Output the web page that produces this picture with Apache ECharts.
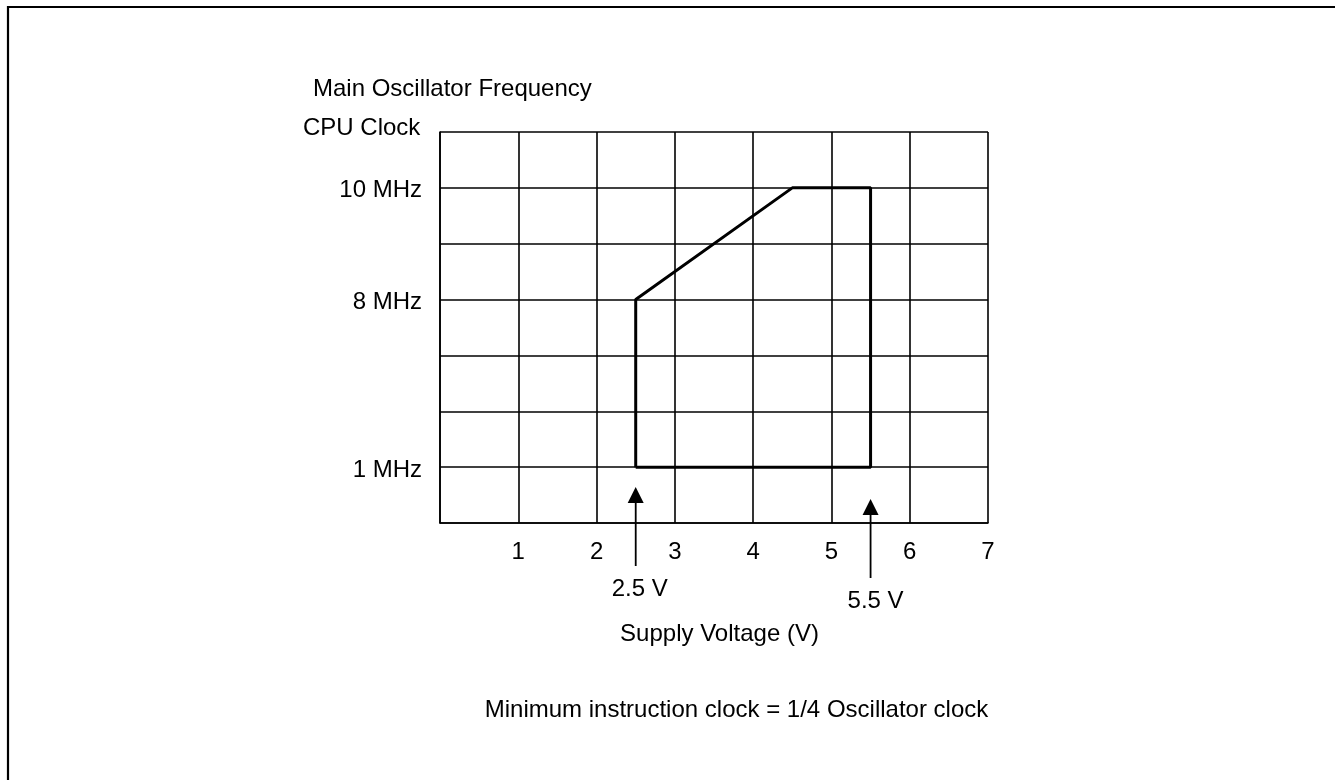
<!DOCTYPE html>
<html>
<head>
<meta charset="utf-8">
<title>Operating Range</title>
<script src="https://cdn.jsdelivr.net/npm/echarts@6/dist/echarts.min.js"></script>
<style>
  html, body { margin: 0; padding: 0; background: #fff; }
  #chart { width: 1335px; height: 780px; }
</style>
</head>
<body>
<div id="chart"></div>
<script>
// Operating area outline: supply voltage (V) vs. oscillator frequency (MHz)
const voltages = [2.5, 2.5, 4.5, 5.5, 5.5, 2.5];
const frequenciesMHz = [1, 8, 10, 10, 1, 1];

// Tick labels, one per grid row / column
const freqTickLabels = ['', '1 MHz', '', '', '8 MHz', '', '10 MHz', ''];
const voltTickLabels = ['', '1', '2', '3', '4', '5', '6', '7'];

// Voltage limit markers below the axis
const markerVoltages = [2.5, 5.5];
const markerLabels = ['2.5 V', '5.5 V'];

const FONT = '"Liberation Sans", Arial, sans-serif';
const FONT_SIZE = 24;

// Frequency axis is drawn in rows; each labelled frequency sits on its own row
const rowOf = mhz => freqTickLabels.indexOf(mhz + ' MHz');

const outline = voltages.map((v, i) => [v, rowOf(frequenciesMHz[i])]);

// Arrow geometry (pixels relative to the bottom of the plot)
const arrowLayout = [
  { tip: 36, tail: 43, label: 66, dx: 4 },
  { tip: 24, tail: 55, label: 78, dx: 5 }
];

const chart = echarts.init(document.getElementById('chart'), null, { renderer: 'canvas' });

chart.setOption({
  backgroundColor: '#ffffff',
  animation: false,
  grid: { left: 440, top: 132, width: 548, height: 391 },
  xAxis: {
    type: 'value',
    min: 0,
    max: voltTickLabels.length - 1,
    interval: 1,
    axisLine: { show: true, lineStyle: { color: '#000', width: 1.6 } },
    axisTick: { show: false },
    splitLine: { show: true, lineStyle: { color: '#000', width: 1.6 } },
    axisLabel: {
      margin: 17,
      color: '#000',
      fontFamily: FONT,
      fontSize: FONT_SIZE,
      formatter: v => voltTickLabels[Math.round(v)] || ''
    }
  },
  yAxis: {
    type: 'value',
    min: 0,
    max: freqTickLabels.length - 1,
    interval: 1,
    axisLine: { show: true, lineStyle: { color: '#000', width: 1.6 } },
    axisTick: { show: false },
    splitLine: { show: true, lineStyle: { color: '#000', width: 1.6 } },
    axisLabel: {
      margin: 18,
      color: '#000',
      fontFamily: FONT,
      fontSize: FONT_SIZE,
      formatter: v => {
        const t = freqTickLabels[Math.round(v)];
        return t ? '{f|' + t + '}' : '';
      },
      rich: {
        f: {
          color: '#000',
          fontFamily: FONT,
          fontSize: FONT_SIZE,
          padding: [6, 0, 0, 0]
        }
      }
    }
  },
  series: [
    {
      type: 'line',
      data: outline,
      symbol: 'none',
      lineStyle: { color: '#000', width: 3 },
      z: 5
    },
    {
      type: 'custom',
      clip: false,
      data: markerVoltages.map(v => [v, 0]),
      renderItem: (params, api) => {
        const p = api.coord([api.value(0), 0]);
        const lay = arrowLayout[params.dataIndex];
        const x = p[0];
        const base = p[1];
        const tipY = base - lay.tip;
        const headH = 16, headW = 16;
        return {
          type: 'group',
          children: [
            {
              type: 'line',
              shape: { x1: x, y1: base + lay.tail, x2: x, y2: tipY + headH - 2 },
              style: { stroke: '#000', lineWidth: 1.8 }
            },
            {
              type: 'polygon',
              shape: { points: [[x, tipY], [x - headW / 2, tipY + headH], [x + headW / 2, tipY + headH]] },
              style: { fill: '#000' }
            },
            {
              type: 'text',
              style: {
                text: markerLabels[params.dataIndex],
                x: x + lay.dx,
                y: base + lay.label,
                align: 'center',
                verticalAlign: 'middle',
                fill: '#000',
                fontFamily: FONT,
                fontSize: FONT_SIZE
              }
            }
          ]
        };
      },
      z: 6
    }
  ],
  graphic: [
    {
      type: 'polyline',
      shape: { points: [[8, 780], [8, 7], [1335, 7]] },
      style: { stroke: '#000', lineWidth: 2.2, fill: null }
    },
    {
      type: 'text',
      left: 313,
      top: 89 - FONT_SIZE / 2,
      style: { text: 'Main Oscillator Frequency', fill: '#000', fontFamily: FONT, fontSize: FONT_SIZE }
    },
    {
      type: 'text',
      left: 303,
      top: 128 - FONT_SIZE / 2,
      style: { text: 'CPU Clock', fill: '#000', fontFamily: FONT, fontSize: FONT_SIZE }
    },
    {
      type: 'text',
      x: 719.5,
      y: 634,
      style: { text: 'Supply Voltage (V)', fill: '#000', fontFamily: FONT, fontSize: FONT_SIZE, align: 'center', verticalAlign: 'middle' }
    },
    {
      type: 'text',
      x: 736.5,
      y: 710,
      style: { text: 'Minimum instruction clock = 1/4 Oscillator clock', fill: '#000', fontFamily: FONT, fontSize: FONT_SIZE, align: 'center', verticalAlign: 'middle' }
    }
  ]
});
</script>
</body>
</html>
